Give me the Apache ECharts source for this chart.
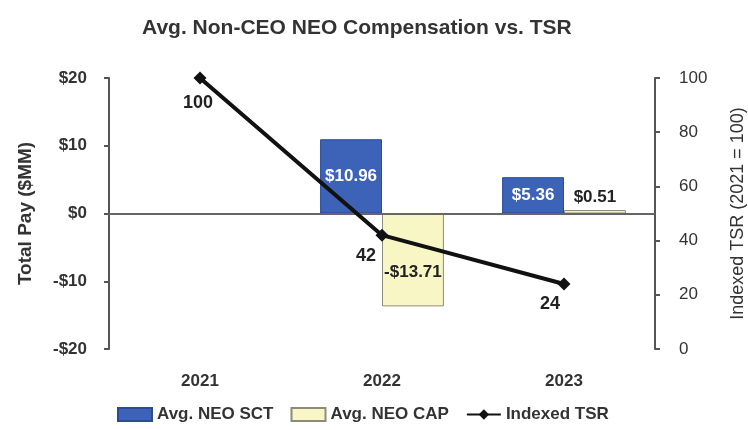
<!DOCTYPE html>
<html>
<head>
<meta charset="utf-8">
<script src="https://cdn.jsdelivr.net/npm/echarts@6/dist/echarts.min.js"></script>
<style>
  html, body { margin: 0; padding: 0; background: #ffffff; }
  #chart { width: 748px; height: 430px; }
</style>
</head>
<body>
<div id="chart"></div>
<script>
var years = ["2021", "2022", "2023"];
var neoSct = [null, 10.96, 5.36];
var neoCap = [null, -13.71, 0.51];
var indexedTsr = [100, 42, 24];
var payTicks = [-20, -10, 0, 10, 20];
var tsrTicks = [0, 20, 40, 60, 80, 100];

function money(v) {
    return (v < 0 ? "-$" : "$") + Math.abs(v).toFixed(2);
}

function char1() {
    var myChart = echarts.init(document.getElementById("chart"));

    // label offsets for the TSR points (below-left of each marker)
    var tsrOffsets = [[-2, 0], [-16, -5], [-14, -5]];
    var tsrData = indexedTsr.map(function (v, i) {
        return { value: v, label: { offset: tsrOffsets[i] } };
    });
    var capData = neoCap.map(function (v) {
        if (v === null) return null;
        if (v < 0) return { value: v, label: { position: "inside", color: "#222", offset: [0, 12] } };
        return { value: v, label: { position: "top", color: "#222", distance: 4 } };
    });

    var axisText = { color: "#333", fontSize: 17, fontWeight: "bold", fontFamily: "Liberation Sans" };

    var option = {
        animation: false,
        title: {
            text: "Avg. Non-CEO NEO Compensation vs. TSR",
            left: 137,
            top: 13,
            textStyle: { color: "#333", fontSize: 21, fontWeight: "bold", fontFamily: "Liberation Sans" }
        },
        legend: {
            left: 112,
            top: 401,
            itemWidth: 34,
            itemHeight: 13,
            itemGap: 17,
            textStyle: { color: "#333", fontSize: 17, fontWeight: "bold", fontFamily: "Liberation Sans" },
            data: [
                { name: "Avg. NEO SCT", icon: "rect" },
                { name: "Avg. NEO CAP", icon: "rect" },
                { name: "Indexed TSR" }
            ]
        },
        grid: { left: 109, right: 93, top: 78, bottom: 81, containLabel: false, outerBoundsMode: "none" },
        xAxis: {
            type: "category",
            data: years,
            axisLine: { show: false, onZero: false },
            axisTick: { show: false },
            axisLabel: Object.assign({ margin: 24 }, axisText)
        },
        yAxis: [
            {
                type: "value",
                min: payTicks[0],
                max: payTicks[payTicks.length - 1],
                interval: 10,
                name: "Total Pay ($MM)",
                nameLocation: "middle",
                nameGap: 74,
                nameTextStyle: { color: "#333", fontSize: 19, fontWeight: "bold", fontFamily: "Liberation Sans" },
                axisLine: { show: true, lineStyle: { color: "#555", width: 2 } },
                axisTick: { show: true, length: 5, lineStyle: { color: "#555", width: 2 } },
                splitLine: { show: false },
                axisLabel: Object.assign({ margin: 22, formatter: function (v) { return v < 0 ? "-$" + (-v) : "$" + v; } }, axisText)
            },
            {
                type: "value",
                min: tsrTicks[0],
                max: tsrTicks[tsrTicks.length - 1],
                interval: 20,
                name: "Indexed TSR (2021 = 100)",
                nameLocation: "middle",
                nameGap: 74,
                nameRotate: 90,
                nameTextStyle: { color: "#333", fontSize: 18, fontFamily: "Liberation Sans" },
                axisLine: { show: true, lineStyle: { color: "#555", width: 2 } },
                axisTick: { show: true, length: 5, lineStyle: { color: "#555", width: 2 } },
                splitLine: { show: false },
                axisLabel: Object.assign({ margin: 24 }, axisText, { fontWeight: "normal" })
            }
        ],
        series: [
            {
                name: "Avg. NEO SCT",
                type: "bar",
                barWidth: "34%",
                barGap: "0%",
                itemStyle: { color: "#3c63b8", borderColor: "#2b4c94", borderWidth: 1 },
                label: {
                    show: true,
                    position: "inside",
                    color: "#ffffff",
                    fontSize: 17,
                    fontWeight: "bold",
                    fontFamily: "Liberation Sans",
                    formatter: function (p) { return money(p.value); }
                },
                markLine: {
                    silent: true,
                    symbol: "none",
                    label: { show: false },
                    lineStyle: { color: "#666", width: 2, type: "solid" },
                    data: [{ yAxis: 0 }]
                },
                data: neoSct
            },
            {
                name: "Avg. NEO CAP",
                type: "bar",
                barWidth: "34%",
                itemStyle: { color: "#f8f6c4", borderColor: "#8c8c7c", borderWidth: 1 },
                label: {
                    show: true,
                    fontSize: 17,
                    fontWeight: "bold",
                    fontFamily: "Liberation Sans",
                    formatter: function (p) { return money(p.value); }
                },
                data: capData
            },
            {
                name: "Indexed TSR",
                type: "line",
                yAxisIndex: 1,
                symbol: "diamond",
                symbolSize: 13,
                lineStyle: { color: "#111", width: 4 },
                itemStyle: { color: "#111" },
                label: {
                    show: true,
                    position: "bottom",
                    distance: 10,
                    color: "#222",
                    fontSize: 18,
                    fontWeight: "bold",
                    fontFamily: "Liberation Sans"
                },
                z: 5,
                data: tsrData
            }
        ]
    };

    myChart.setOption(option);
    window.addEventListener("resize", function () {
        myChart.resize();
    });
}

char1();
</script>
</body>
</html>
